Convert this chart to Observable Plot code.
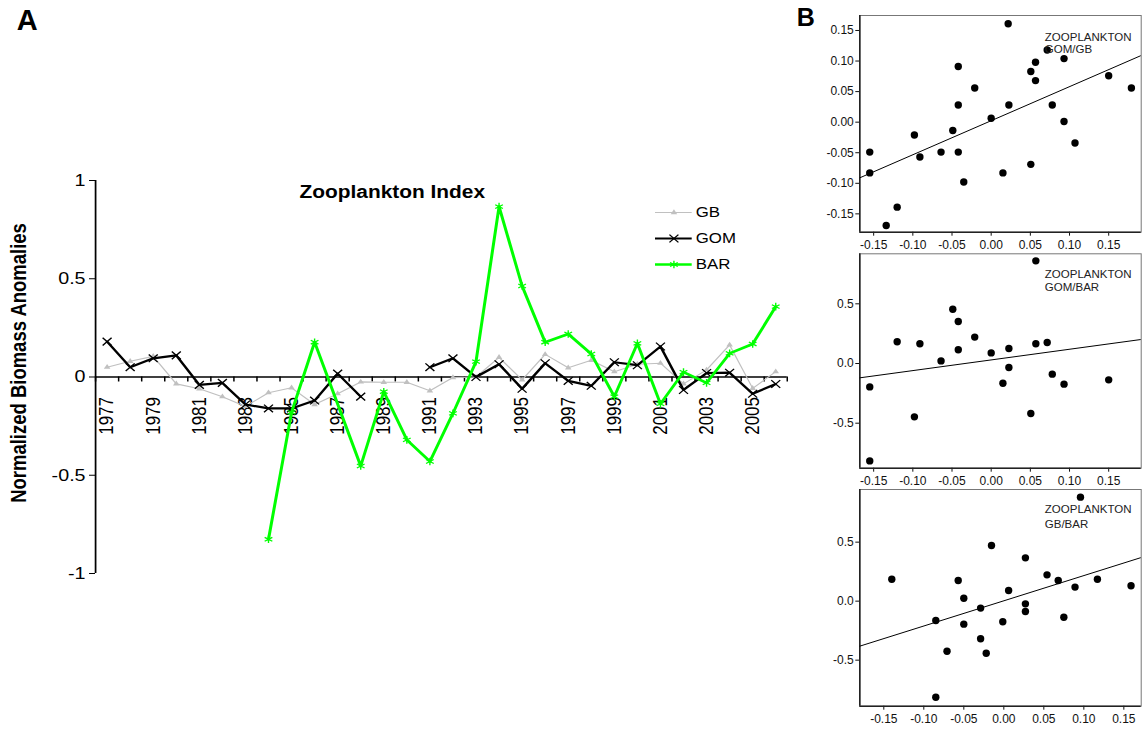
<!DOCTYPE html>
<html><head><meta charset="utf-8">
<script src="https://cdn.jsdelivr.net/npm/d3@7"></script>
<script src="https://cdn.jsdelivr.net/npm/@observablehq/plot@0.6"></script>
<style>
body{margin:0;background:#fff;font-family:"Liberation Sans",Arial,Helvetica,sans-serif;}
#root{position:relative;width:1142px;height:729px;overflow:hidden;background:#fff;}
#panelA{position:absolute;left:0;top:0;width:690px;height:729px;transform:scaleX(1.16);transform-origin:0 0;}
.abs{position:absolute;}
.lbl{position:absolute;font-weight:bold;line-height:1;white-space:nowrap;color:#000;}
svg{overflow:visible;}
</style></head><body>
<div id="root">
  <div id="panelA"><div id="mainA" class="abs" style="left:0;top:0;width:690px"></div><div id="legA" class="abs" style="left:550px;top:195px;width:150px"></div></div>
  <div id="b1" class="abs" style="left:800px;top:0;width:342px"></div>
  <div id="b2" class="abs" style="left:800px;top:252px;width:342px"></div>
  <div id="b3" class="abs" style="left:800px;top:488px;width:342px"></div>
  <div class="lbl" style="left:16.7px;top:6.3px;font-size:29px">A</div>
  <div class="lbl" style="left:796.7px;top:4.8px;font-size:25px">B</div>
</div>
<script>
// ---------- Panel A data ----------
const years = [1977,1978,1979,1980,1981,1982,1983,1984,1985,1986,1987,1988,1989,1990,1991,1992,1993,1994,1995,1996,1997,1998,1999,2000,2001,2002,2003,2004,2005,2006];
const gbValues  = [0.05,0.08,0.105,-0.035,-0.06,-0.1,-0.15,-0.08,-0.055,-0.14,-0.085,-0.025,-0.027,-0.027,-0.07,-0.003,0.0,0.1,-0.015,0.115,0.047,0.085,0.027,0.065,0.07,-0.035,0.036,0.163,-0.058,0.027];
const gomValues = [0.18,0.05,0.095,0.11,-0.04,-0.03,-0.14,-0.16,-0.16,-0.12,0.017,-0.1,null,null,0.05,0.095,0.0,0.065,-0.06,0.07,-0.02,-0.045,0.075,0.06,0.155,-0.066,0.02,0.022,-0.085,-0.036];
const barValues = [null,null,null,null,null,null,null,-0.826,-0.18,0.177,null,-0.453,-0.075,-0.32,-0.43,-0.185,0.078,0.867,0.463,0.177,0.219,0.117,-0.1,0.171,-0.137,0.025,-0.03,0.12,0.168,0.358];
const seriesNames = ["GB","GOM","BAR"];
const yTickValuesA = [-1,-0.5,0,0.5,1];
const xLabelYears = [1977,1979,1981,1983,1985,1987,1989,1991,1993,1995,1997,1999,2001,2003,2005];
const titleA = "Zooplankton Index";
const yLabelA = "Normalized Biomass Anomalies";

// ---------- Panel B data ----------
const b1x = [0.0217,-0.155,-0.155,-0.134,-0.12,-0.098,-0.091,-0.064,-0.049,-0.042,-0.042,-0.042,-0.035,-0.021,0.0,0.015,0.0226,0.0506,0.0566,0.0566,0.0506,0.0715,0.078,0.093,0.093,0.107,0.150,0.179];
const b1y = [0.161,-0.049,-0.083,-0.169,-0.139,-0.021,-0.057,-0.049,-0.0136,0.091,0.028,-0.049,-0.098,0.056,0.0065,-0.083,0.028,0.083,0.098,0.068,-0.069,0.118,0.028,0.104,0.001,-0.034,0.076,0.056];
const b1fit = {slope: 0.557, intercept: 0.0024};
const b2x = [0.057,-0.049,-0.042,-0.021,-0.12,-0.091,-0.042,0.0,0.0226,0.057,0.0715,-0.064,0.0226,0.015,0.078,0.093,0.150,-0.155,-0.098,0.0506,-0.155];
const b2y = [0.86,0.455,0.352,0.221,0.182,0.165,0.115,0.089,0.126,0.165,0.176,0.022,-0.034,-0.165,-0.089,-0.173,-0.137,-0.196,-0.447,-0.419,-0.816];
const b2fit = {slope: 0.894, intercept: 0.030};
const b3x = [0.0958,-0.0154,0.027,0.054,0.068,0.117,-0.14,-0.057,0.089,0.159,0.006,-0.05,-0.029,0.027,0.027,-0.0013,-0.085,-0.05,0.075,-0.029,-0.071,-0.022,-0.085];
const b3y = [0.881,0.472,0.367,0.223,0.175,0.186,0.186,0.175,0.119,0.130,0.090,0.025,-0.059,-0.023,-0.088,-0.175,-0.164,-0.195,-0.136,-0.319,-0.424,-0.441,-0.814];
const b3fit = {slope: 2.135, intercept: 0.003};
const bxTicks = [-0.15,-0.10,-0.05,0,0.05,0.10,0.15];
const b1yTicks = [-0.15,-0.10,-0.05,0,0.05,0.10,0.15];
const b23yTicks = [-0.5,0,0.5];
const bLabels = ["ZOOPLANKTON\nGOM/GB","ZOOPLANKTON\nGOM/BAR","ZOOPLANKTON\nGB/BAR"];

// ---------- styles ----------
const GRAY = "#c0c0c0", GREEN = "#00ff00";
const SX = 1.16; // horizontal stretch of panel A
const FONT = "'Liberation Sans', Arial, Helvetica, sans-serif";

const rows = (vals) => years.map((year, i) => ({year, v: vals[i]}));
const gbData = rows(gbValues);
const gomData = rows(gomValues);
const barData = rows(barValues).filter(d => d.v != null);
const bounds = d3.range(years[0] - 0.5, years[years.length - 1] + 1, 1);
const xDomA = [bounds[0], bounds[bounds.length - 1]];

const mainA = Plot.plot({
  width: 800 / SX, height: 729,
  marginLeft: 95 / SX, marginRight: (800 - 786.7) / SX, marginTop: 180, marginBottom: 156,
  x: {domain: xDomA, axis: null},
  y: {domain: [-1, 1], axis: null},
  style: {fontFamily: FONT, fontSize: "17px", background: "transparent", overflow: "visible", maxWidth: "none", color: "#000"},
  marks: [
    Plot.ruleX([xDomA[0]], {y1: -1, y2: 1, stroke: "#000", strokeWidth: 1.5}),
    Plot.axisY(yTickValuesA, {tickFormat: d => String(d), tickSize: 6 / SX, tickPadding: 4 / SX, fontSize: 17, stroke: "#000", label: null}),
    Plot.ruleY([0], {x1: xDomA[0], x2: xDomA[1], stroke: "#000", strokeWidth: 1.5}),
    Plot.ruleX(bounds, {x: d => d, y1: () => 0, y2: () => 0, insetBottom: -5, stroke: "#000", strokeWidth: 1.3}),
    Plot.text(xLabelYears, {x: d => d, y: () => 0, text: d => String(d), rotate: -90, textAnchor: "end", dy: 20, fontSize: 17}),
    Plot.line(gbData, {x: "year", y: "v", stroke: GRAY, strokeWidth: 1.1}),
    Plot.dot(gbData, {x: "year", y: "v", symbol: "triangle2", r: 2.7, fill: GRAY}),
    Plot.line(gomData, {x: "year", y: "v", stroke: "#000", strokeWidth: 2.2}),
    Plot.dot(gomData, {x: "year", y: "v", symbol: "times", r: 3.6, stroke: "#000", strokeWidth: 1.2}),
    Plot.line(barData, {x: "year", y: "v", stroke: GREEN, strokeWidth: 2.6}),
    Plot.dot(barData, {x: "year", y: "v", symbol: "asterisk", r: 3.6, stroke: GREEN, strokeWidth: 1.2}),
    Plot.text([titleA], {frameAnchor: "top-left", textAnchor: "start", lineAnchor: "bottom", dx: (299 - 95) / SX, dy: 17.3, fontWeight: "bold", fontSize: 18}),
    Plot.text([yLabelA], {frameAnchor: "left", textAnchor: "middle", rotate: -90, dx: (19 - 95) / SX, dy: -14, fontWeight: "bold", fontSize: 18.5})
  ]
});
document.getElementById("mainA").appendChild(mainA);

const legendStyle = {
  GB: {stroke: GRAY, sw: 1.1, symbol: "triangle2", fill: GRAY},
  GOM: {stroke: "#000", sw: 2.2, symbol: "times"},
  BAR: {stroke: GREEN, sw: 2.6, symbol: "asterisk"}
};
const legA = Plot.plot({
  width: 150, height: 80, margin: 0,
  x: {domain: [0, 1], range: [(655 / SX) - 550, (691.7 / SX) - 550], axis: null},
  y: {type: "point", domain: seriesNames, range: [16.7, 70], padding: 0, axis: null},
  style: {fontFamily: FONT, fontSize: "14.5px", background: "transparent", overflow: "visible", maxWidth: "none"},
  marks: [
    ...seriesNames.map(n => Plot.ruleY([n], {y: d => d, x1: () => 0, x2: () => 1, stroke: legendStyle[n].stroke, strokeWidth: legendStyle[n].sw})),
    ...seriesNames.map(n => Plot.dot([n], {x: () => 0.5, y: d => d, symbol: legendStyle[n].symbol, r: n === "GB" ? 2.7 : 3.6,
      ...(legendStyle[n].fill ? {fill: legendStyle[n].fill} : {stroke: legendStyle[n].stroke, strokeWidth: 1.2})})),
    Plot.text(seriesNames, {x: () => 1, y: d => d, text: d => d, textAnchor: "start", dx: 3, fontSize: 14.5})
  ]
});
document.getElementById("legA").appendChild(legA);

// ---------- Panel B scatters ----------
function scatter(el, o) {
  const pts = o.xs.map((x, i) => ({x, y: o.ys[i]}));
  const fit = o.xDomain.map(x => ({x, y: o.fit.intercept + o.fit.slope * x}));
  const p = Plot.plot({
    width: 342, height: o.height,
    marginLeft: 59.3, marginRight: 1.3, marginTop: o.mt, marginBottom: o.mb,
    x: {domain: o.xDomain, axis: null},
    y: {domain: o.yDomain, axis: null},
    style: {fontFamily: FONT, fontSize: "12px", background: "transparent", overflow: "visible", maxWidth: "none", color: "#111"},
    marks: [
      Plot.frame({stroke: "#777", strokeWidth: 1}),
      Plot.axisX(bxTicks, {tickFormat: d => d.toFixed(2), tickSize: 4, tickPadding: 4, fontSize: 12, label: null}),
      Plot.axisY(o.yTicks, {tickFormat: o.yFmt, tickSize: 4, tickPadding: 2, fontSize: 12, label: null}),
      Plot.ruleX([o.xDomain[0]], {stroke: "#222", strokeWidth: 1.6}),
      Plot.ruleY([o.yDomain[0]], {stroke: "#222", strokeWidth: 1.6}),
      Plot.line(fit, {x: "x", y: "y", stroke: "#000", strokeWidth: 1, clip: true}),
      Plot.dot(pts, {x: "x", y: "y", r: 3.7, fill: "#000"}),
      Plot.text([o.label], {frameAnchor: "top-right", textAnchor: "start", lineAnchor: "top", dx: -96.4, dy: o.labelDy, lineHeight: o.lh, fontSize: 11.5, fill: "#222"})
    ]
  });
  el.appendChild(p);
}
scatter(document.getElementById("b1"), {xs: b1x, ys: b1y, fit: b1fit, xDomain: [-0.1677, 0.1915], yDomain: [-0.18, 0.1745],
  yTicks: b1yTicks, yFmt: d => d.toFixed(2), height: 252, mt: 15, mb: 20.3, label: bLabels[0], labelDy: 16.7, lh: 1.05});
scatter(document.getElementById("b2"), {xs: b2x, ys: b2y, fit: b2fit, xDomain: [-0.1677, 0.1915], yDomain: [-0.877, 0.919],
  yTicks: b23yTicks, yFmt: d => d.toFixed(1), height: 236, mt: 1.3, mb: 20.3, label: bLabels[1], labelDy: 14.4, lh: 1.16});
scatter(document.getElementById("b3"), {xs: b3x, ys: b3y, fit: b3fit, xDomain: [-0.18, 0.1717], yDomain: [-0.89, 0.946],
  yTicks: b23yTicks, yFmt: d => d.toFixed(1), height: 241, mt: 1, mb: 23.3, label: bLabels[2], labelDy: 12.7, lh: 1.3});
</script>
</body></html>
